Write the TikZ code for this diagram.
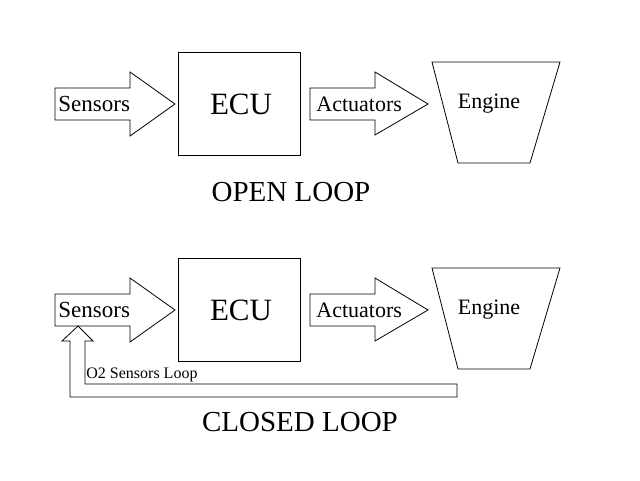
\documentclass[tikz,border=0pt]{standalone}
\usepackage{fontspec}
\setmainfont{Liberation Serif}
\usepackage{tikz}

\begin{document}
\begin{tikzpicture}[x=1pt,y=-1pt,line width=0.8pt]
		\useasboundingbox (0,0) rectangle (640,480);
		\foreach \dy in {0,206} {
			% sensors arrow
			\draw (55,88+\dy) -- (130,88+\dy) -- (130,72+\dy) -- (175,104+\dy) -- (130,136+\dy) -- (130,120+\dy) -- (55,120+\dy) -- cycle;
			\node[anchor=west, inner sep=1pt, font=\fontsize{23}{23}\selectfont] at (57,104+\dy) {Sensors};
			% ECU
			\draw (178,52+\dy) rectangle (300,155+\dy);
			\node[font=\fontsize{31}{31}\selectfont] at (241,104+\dy) {ECU};
			% actuators arrow
			\draw (310,88+\dy) -- (375,88+\dy) -- (375,72+\dy) -- (428,104+\dy) -- (375,135+\dy) -- (375,120+\dy) -- (310,120+\dy) -- cycle;
			\node[anchor=west, inner sep=1pt, font=\fontsize{22}{22}\selectfont] at (315,104+\dy) {Actuators};
			% engine
			\draw (432,62+\dy) -- (560,62+\dy) -- (530,163+\dy) -- (458,163+\dy) -- cycle;
			\node[font=\fontsize{22}{22}\selectfont] at (489,104+\dy) {Engine};
		}
		\node (open) [font=\fontsize{29}{29}\selectfont] at (291,192) {OPEN LOOP};
		\node (closed) [font=\fontsize{29}{29}\selectfont] at (300,422) {CLOSED LOOP};
		% O2 loop
		\draw (78,326) -- (93,341) -- (85,341) -- (85,384) -- (457,384) -- (457,397) -- (70,397) -- (70,341) -- (62,341) -- cycle;
		\node (o2) [anchor=south west, inner sep=1pt, font=\fontsize{16}{16}\selectfont] at (85,383) {O2 Sensors Loop};
	\end{tikzpicture}
\end{document}
